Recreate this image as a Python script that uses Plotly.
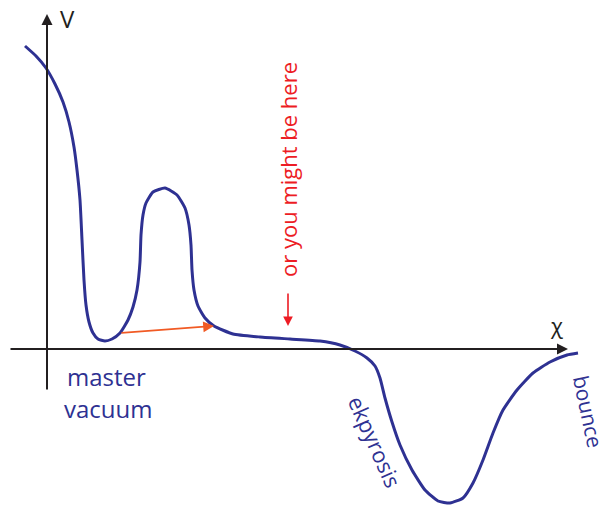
import plotly.graph_objects as go

# Schematic potential V(chi) (units: chi, V)
chi = [-0.21, -0.10, 0.00, 0.09, 0.17, 0.23, 0.28, 0.31, 0.34, 0.36, 0.38, 0.40,
       0.43, 0.47, 0.52, 0.59, 0.66, 0.74, 0.82, 0.87, 0.91, 0.94, 0.95, 0.97,
       1.00, 1.07, 1.19, 1.31, 1.39, 1.43, 1.45, 1.46, 1.48, 1.52, 1.59, 1.68,
       1.87, 2.14, 2.44, 2.74, 2.94, 3.09, 3.21, 3.29, 3.34, 3.39, 3.46, 3.54,
       3.66, 3.79, 3.92, 4.04, 4.17, 4.27, 4.37, 4.47, 4.57, 4.71, 4.87, 5.04,
       5.21, 5.32]
V = [3.03, 2.93, 2.81, 2.65, 2.47, 2.27, 2.02, 1.79, 1.49, 1.09, 0.69, 0.44,
     0.27, 0.16, 0.10, 0.08, 0.10, 0.16, 0.29, 0.42, 0.59, 0.87, 1.14, 1.34,
     1.46, 1.57, 1.61, 1.54, 1.41, 1.24, 1.04, 0.79, 0.59, 0.43, 0.31, 0.23,
     0.15, 0.12, 0.10, 0.08, 0.04, -0.02, -0.09, -0.17, -0.29, -0.49, -0.73, -0.96,
     -1.21, -1.41, -1.52, -1.54, -1.49, -1.34, -1.11, -0.84, -0.61, -0.41, -0.24, -0.13,
     -0.06, -0.04]

tunnel_from = (0.74, 0.16)
tunnel_to = (1.68, 0.23)
here_arrow = (2.42, 0.57, 0.23)  # chi, V start, V end

blue = "#2e3192"
red = "#ed1c24"
orange = "#f15a24"
black = "#231f20"
font = "Open Sans"

fig = go.Figure()
fig.add_trace(go.Scatter(x=chi, y=V, mode="lines",
                         line=dict(color=blue, width=3, shape="spline", smoothing=0.5),
                         hoverinfo="skip", showlegend=False))

# axes with arrows
fig.add_annotation(x=5.22, y=0, ax=-0.37, ay=0, xref="x", yref="y", axref="x", ayref="y",
                   showarrow=True, arrowhead=2, arrowsize=1.1, arrowwidth=2, arrowcolor=black, text="")
fig.add_annotation(x=0.01, y=3.35, ax=0.01, ay=-0.42, xref="x", yref="y", axref="x", ayref="y",
                   showarrow=True, arrowhead=2, arrowsize=1.1, arrowwidth=2, arrowcolor=black, text="")

# tunnelling arrow
fig.add_annotation(x=tunnel_to[0], y=tunnel_to[1], ax=tunnel_from[0], ay=tunnel_from[1],
                   xref="x", yref="y", axref="x", ayref="y", showarrow=True, arrowhead=2,
                   arrowsize=1.2, arrowwidth=1.8, arrowcolor=orange, text="")
# "you might be here" arrow
fig.add_annotation(x=here_arrow[0], y=here_arrow[2], ax=here_arrow[0], ay=here_arrow[1],
                   xref="x", yref="y", axref="x", ayref="y", showarrow=True, arrowhead=2,
                   arrowsize=1.2, arrowwidth=1.6, arrowcolor=red, text="")

def label(x, y, t, color, size, angle=0):
    fig.add_annotation(x=x, y=y, xref="x", yref="y", text=t, showarrow=False,
                       textangle=angle, font=dict(family=font, size=size, color=color))

label(0.21, 3.31, "V", black, 24)
label(5.10, 0.24, "χ", black, 22)
label(0.60, -0.27, "master", blue, 24)
label(0.62, -0.59, "vacuum", blue, 24)
label(2.42, 1.79, "or you might be here", red, 22, -90)
label(3.29, -0.92, "ekpyrosis", blue, 22, 66)
label(5.42, -0.62, "bounce", blue, 21, 78)

fig.update_layout(width=609, height=505, margin=dict(l=0, r=0, t=0, b=0),
                  plot_bgcolor="white", paper_bgcolor="white")
fig.update_xaxes(range=[-0.46, 5.63], visible=False)
fig.update_yaxes(range=[-1.56, 3.49], visible=False)
fig.write_html("out.html", config={"displayModeBar": False, "staticPlot": True},
               post_script="document.body.style.margin='0';document.body.style.overflow='hidden';")
